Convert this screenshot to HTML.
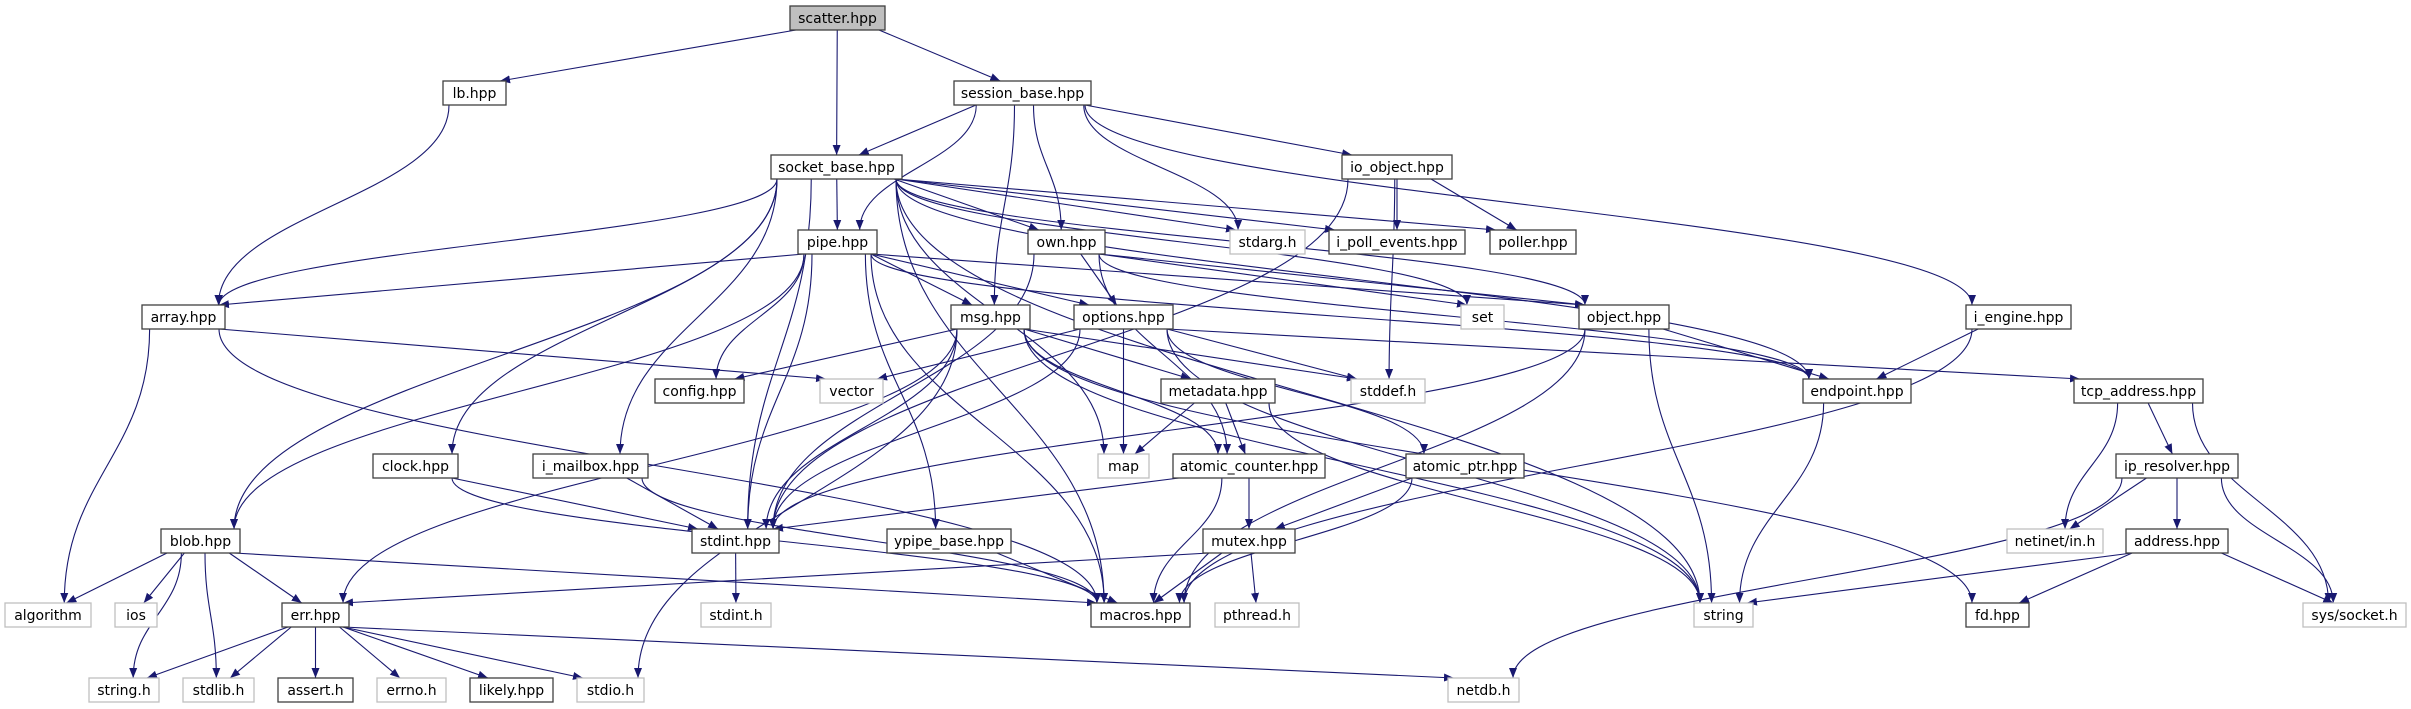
<!DOCTYPE html>
<html><head><meta charset="utf-8">
<style>
html,body{margin:0;padding:0;background:#fff;}
svg{display:block;}
text{font-family:"DejaVu Sans","Liberation Sans",sans-serif;font-size:14px;fill:#000;}
</style></head>
<body>
<svg id="g" width="2411" height="709" viewBox="0 0 2411 709" xmlns="http://www.w3.org/2000/svg">
<defs>
<marker id="ah" viewBox="0 0 10 10" refX="10" refY="5" markerWidth="10" markerHeight="10" markerUnits="userSpaceOnUse" orient="auto">
<path d="M0,1 L10,5 L0,9 z" fill="#191970"/>
</marker>
</defs>
<g id="edges" fill="none" stroke="#191970" stroke-width="1.1"></g>
<g id="nodes">
<rect x="790" y="6" width="95" height="24" fill="#bfbfbf" stroke="#404040" stroke-width="1.3"/><text x="837.5" y="23" text-anchor="middle">scatter.hpp</text>
<rect x="443" y="81" width="63" height="24" fill="#fff" stroke="#404040" stroke-width="1.3"/><text x="474.5" y="98" text-anchor="middle">lb.hpp</text>
<rect x="954" y="81" width="137" height="24" fill="#fff" stroke="#404040" stroke-width="1.3"/><text x="1022.5" y="98" text-anchor="middle">session_base.hpp</text>
<rect x="771" y="155" width="131" height="24" fill="#fff" stroke="#404040" stroke-width="1.3"/><text x="836.5" y="172" text-anchor="middle">socket_base.hpp</text>
<rect x="1342" y="155" width="110" height="24" fill="#fff" stroke="#404040" stroke-width="1.3"/><text x="1397" y="172" text-anchor="middle">io_object.hpp</text>
<rect x="798" y="230" width="79" height="24" fill="#fff" stroke="#404040" stroke-width="1.3"/><text x="837.5" y="247" text-anchor="middle">pipe.hpp</text>
<rect x="1028" y="230" width="77" height="24" fill="#fff" stroke="#404040" stroke-width="1.3"/><text x="1066.5" y="247" text-anchor="middle">own.hpp</text>
<rect x="1230" y="230" width="75" height="24" fill="#fff" stroke="#bfbfbf" stroke-width="1.3"/><text x="1267.5" y="247" text-anchor="middle">stdarg.h</text>
<rect x="1329" y="230" width="136" height="24" fill="#fff" stroke="#404040" stroke-width="1.3"/><text x="1397" y="247" text-anchor="middle">i_poll_events.hpp</text>
<rect x="1490" y="230" width="86" height="24" fill="#fff" stroke="#404040" stroke-width="1.3"/><text x="1533" y="247" text-anchor="middle">poller.hpp</text>
<rect x="142" y="305" width="83" height="24" fill="#fff" stroke="#404040" stroke-width="1.3"/><text x="183.5" y="322" text-anchor="middle">array.hpp</text>
<rect x="951" y="305" width="79" height="24" fill="#fff" stroke="#404040" stroke-width="1.3"/><text x="990.5" y="322" text-anchor="middle">msg.hpp</text>
<rect x="1074" y="305" width="99" height="24" fill="#fff" stroke="#404040" stroke-width="1.3"/><text x="1123.5" y="322" text-anchor="middle">options.hpp</text>
<rect x="1461" y="305" width="43" height="24" fill="#fff" stroke="#bfbfbf" stroke-width="1.3"/><text x="1482.5" y="322" text-anchor="middle">set</text>
<rect x="1579" y="305" width="90" height="24" fill="#fff" stroke="#404040" stroke-width="1.3"/><text x="1624" y="322" text-anchor="middle">object.hpp</text>
<rect x="1966" y="305" width="105" height="24" fill="#fff" stroke="#404040" stroke-width="1.3"/><text x="2018.5" y="322" text-anchor="middle">i_engine.hpp</text>
<rect x="655" y="379" width="89" height="24" fill="#fff" stroke="#404040" stroke-width="1.3"/><text x="699.5" y="396" text-anchor="middle">config.hpp</text>
<rect x="820" y="379" width="63" height="24" fill="#fff" stroke="#bfbfbf" stroke-width="1.3"/><text x="851.5" y="396" text-anchor="middle">vector</text>
<rect x="1161" y="379" width="114" height="24" fill="#fff" stroke="#404040" stroke-width="1.3"/><text x="1218" y="396" text-anchor="middle">metadata.hpp</text>
<rect x="1351" y="379" width="74" height="24" fill="#fff" stroke="#bfbfbf" stroke-width="1.3"/><text x="1388" y="396" text-anchor="middle">stddef.h</text>
<rect x="1803" y="379" width="108" height="24" fill="#fff" stroke="#404040" stroke-width="1.3"/><text x="1857" y="396" text-anchor="middle">endpoint.hpp</text>
<rect x="2074" y="379" width="129" height="24" fill="#fff" stroke="#404040" stroke-width="1.3"/><text x="2138.5" y="396" text-anchor="middle">tcp_address.hpp</text>
<rect x="373" y="454" width="85" height="24" fill="#fff" stroke="#404040" stroke-width="1.3"/><text x="415.5" y="471" text-anchor="middle">clock.hpp</text>
<rect x="533" y="454" width="115" height="24" fill="#fff" stroke="#404040" stroke-width="1.3"/><text x="590.5" y="471" text-anchor="middle">i_mailbox.hpp</text>
<rect x="1098" y="454" width="51" height="24" fill="#fff" stroke="#bfbfbf" stroke-width="1.3"/><text x="1123.5" y="471" text-anchor="middle">map</text>
<rect x="1173" y="454" width="152" height="24" fill="#fff" stroke="#404040" stroke-width="1.3"/><text x="1249" y="471" text-anchor="middle">atomic_counter.hpp</text>
<rect x="1406" y="454" width="118" height="24" fill="#fff" stroke="#404040" stroke-width="1.3"/><text x="1465" y="471" text-anchor="middle">atomic_ptr.hpp</text>
<rect x="2116" y="454" width="122" height="24" fill="#fff" stroke="#404040" stroke-width="1.3"/><text x="2177" y="471" text-anchor="middle">ip_resolver.hpp</text>
<rect x="161" y="529" width="79" height="24" fill="#fff" stroke="#404040" stroke-width="1.3"/><text x="200.5" y="546" text-anchor="middle">blob.hpp</text>
<rect x="692" y="529" width="87" height="24" fill="#fff" stroke="#404040" stroke-width="1.3"/><text x="735.5" y="546" text-anchor="middle">stdint.hpp</text>
<rect x="887" y="529" width="124" height="24" fill="#fff" stroke="#404040" stroke-width="1.3"/><text x="949" y="546" text-anchor="middle">ypipe_base.hpp</text>
<rect x="1203" y="529" width="92" height="24" fill="#fff" stroke="#404040" stroke-width="1.3"/><text x="1249" y="546" text-anchor="middle">mutex.hpp</text>
<rect x="2007" y="529" width="96" height="24" fill="#fff" stroke="#bfbfbf" stroke-width="1.3"/><text x="2055" y="546" text-anchor="middle">netinet/in.h</text>
<rect x="2126" y="529" width="102" height="24" fill="#fff" stroke="#404040" stroke-width="1.3"/><text x="2177" y="546" text-anchor="middle">address.hpp</text>
<rect x="5" y="603" width="86" height="24" fill="#fff" stroke="#bfbfbf" stroke-width="1.3"/><text x="48" y="620" text-anchor="middle">algorithm</text>
<rect x="115" y="603" width="42" height="24" fill="#fff" stroke="#bfbfbf" stroke-width="1.3"/><text x="136" y="620" text-anchor="middle">ios</text>
<rect x="282" y="603" width="67" height="24" fill="#fff" stroke="#404040" stroke-width="1.3"/><text x="315.5" y="620" text-anchor="middle">err.hpp</text>
<rect x="701" y="603" width="70" height="24" fill="#fff" stroke="#bfbfbf" stroke-width="1.3"/><text x="736" y="620" text-anchor="middle">stdint.h</text>
<rect x="1091" y="603" width="99" height="24" fill="#fff" stroke="#404040" stroke-width="1.3"/><text x="1140.5" y="620" text-anchor="middle">macros.hpp</text>
<rect x="1215" y="603" width="84" height="24" fill="#fff" stroke="#bfbfbf" stroke-width="1.3"/><text x="1257" y="620" text-anchor="middle">pthread.h</text>
<rect x="1694" y="603" width="59" height="24" fill="#fff" stroke="#bfbfbf" stroke-width="1.3"/><text x="1723.5" y="620" text-anchor="middle">string</text>
<rect x="1966" y="603" width="63" height="24" fill="#fff" stroke="#404040" stroke-width="1.3"/><text x="1997.5" y="620" text-anchor="middle">fd.hpp</text>
<rect x="2303" y="603" width="103" height="24" fill="#fff" stroke="#bfbfbf" stroke-width="1.3"/><text x="2354.5" y="620" text-anchor="middle">sys/socket.h</text>
<rect x="89" y="678" width="70" height="24" fill="#fff" stroke="#bfbfbf" stroke-width="1.3"/><text x="124" y="695" text-anchor="middle">string.h</text>
<rect x="183" y="678" width="71" height="24" fill="#fff" stroke="#bfbfbf" stroke-width="1.3"/><text x="218.5" y="695" text-anchor="middle">stdlib.h</text>
<rect x="278" y="678" width="75" height="24" fill="#fff" stroke="#404040" stroke-width="1.3"/><text x="315.5" y="695" text-anchor="middle">assert.h</text>
<rect x="377" y="678" width="69" height="24" fill="#fff" stroke="#bfbfbf" stroke-width="1.3"/><text x="411.5" y="695" text-anchor="middle">errno.h</text>
<rect x="470" y="678" width="83" height="24" fill="#fff" stroke="#404040" stroke-width="1.3"/><text x="511.5" y="695" text-anchor="middle">likely.hpp</text>
<rect x="577" y="678" width="67" height="24" fill="#fff" stroke="#bfbfbf" stroke-width="1.3"/><text x="610.5" y="695" text-anchor="middle">stdio.h</text>
<rect x="1448" y="678" width="71" height="24" fill="#fff" stroke="#bfbfbf" stroke-width="1.3"/><text x="1483.5" y="695" text-anchor="middle">netdb.h</text>
</g>
</svg>
<script>
var N={
scatter:[790,885,18],lb:[443,506,93],session:[954,1091,93],socket:[771,902,167],io:[1342,1452,167],
pipe:[798,877,242],own:[1028,1105,242],stdarg:[1230,1305,242],ipoll:[1329,1465,242],poller:[1490,1576,242],
array:[142,225,317],msg:[951,1030,317],options:[1074,1173,317],set:[1461,1504,317],object:[1579,1669,317],iengine:[1966,2071,317],
config:[655,744,391],vector:[820,883,391],metadata:[1161,1275,391],stddef:[1351,1425,391],endpoint:[1803,1911,391],tcp:[2074,2203,391],
clock:[373,458,466],imailbox:[533,648,466],map:[1098,1149,466],acounter:[1173,1325,466],aptr:[1406,1524,466],ipres:[2116,2238,466],
blob:[161,240,541],stdinthpp:[692,779,541],ypipe:[887,1011,541],mutex:[1203,1295,541],netinet:[2007,2103,541],address:[2126,2228,541],
algorithm:[5,91,615],ios:[115,157,615],err:[282,349,615],stdinth:[701,771,615],macros:[1091,1190,615],pthread:[1215,1299,615],string:[1694,1753,615],fd:[1966,2029,615],syssock:[2303,2406,615],
stringh:[89,159,690],stdlib:[183,254,690],assert:[278,353,690],errno:[377,446,690],likely:[470,553,690],stdio:[577,644,690],netdb:[1448,1519,690]};
var E=[
["scatter","lb"],["scatter","socket"],["scatter","session"],["lb","array"],
["session","socket"],["session","pipe"],["session","msg"],["session","own"],["session","stdarg"],["session","io"],["session","iengine"],
["socket","array"],["socket","blob"],["socket","clock"],["socket","imailbox"],["socket","map"],["socket","stdinthpp"],["socket","pipe"],["socket","own"],["socket","stdarg"],["socket","ipoll"],["socket","poller"],["socket","set"],["socket","object"],["socket","endpoint"],["socket","string"],["socket","macros"],
["io","ipoll"],["io","poller"],["io","stddef"],["io","stdinthpp"],
["pipe","array"],["pipe","blob"],["pipe","stdinthpp"],["pipe","config"],["pipe","msg"],["pipe","options"],["pipe","ypipe"],["pipe","object"],["pipe","endpoint"],["pipe","macros"],
["own","options"],["own","object"],["own","acounter"],["own","stdinthpp"],["own","set"],["own","endpoint"],
["array","algorithm"],["array","vector"],["array","macros"],
["msg","config"],["msg","stdinthpp"],["msg","metadata"],["msg","acounter"],["msg","stddef"],["msg","err"],["msg","stdio"],["msg","string"],["msg","fd"],
["options","vector"],["options","map"],["options","stdinthpp"],["options","stddef"],["options","aptr"],["options","string"],["options","tcp"],
["object","stdinthpp"],["object","macros"],["object","string"],["object","endpoint"],
["iengine","endpoint"],["iengine","macros"],
["metadata","map"],["metadata","acounter"],["metadata","string"],
["acounter","stdinthpp"],["acounter","mutex"],["acounter","macros"],
["aptr","mutex"],["aptr","macros"],
["mutex","err"],["mutex","macros"],["mutex","pthread"],
["clock","stdinthpp"],["clock","macros"],["imailbox","stdinthpp"],["imailbox","macros"],
["blob","algorithm"],["blob","ios"],["blob","stringh"],["blob","stdlib"],["blob","err"],["blob","macros"],
["err","stringh"],["err","stdlib"],["err","assert"],["err","errno"],["err","likely"],["err","stdio"],["err","netdb"],
["stdinthpp","stdinth"],["ypipe","macros"],["endpoint","string"],
["tcp","netinet"],["tcp","ipres"],["tcp","syssock"],
["ipres","netinet"],["ipres","address"],["ipres","syssock"],["ipres","netdb"],
["address","string"],["address","fd"],["address","syssock"]];
var g=document.getElementById("edges"),ns="http://www.w3.org/2000/svg";
function cl(v,a,b){return Math.max(a,Math.min(b,v));}
E.forEach(function(e){
 var s=N[e[0]],t=N[e[1]];
 var scx=(s[0]+s[1])/2,tcx=(t[0]+t[1])/2;
 var sx=cl(scx+(tcx-scx)*0.25,s[0]+6,s[1]-6),sy=s[2]+12;
 var tx=cl(tcx+(scx-tcx)*0.12,t[0]+6,t[1]-6),ty=t[2]-12;
 var dy=ty-sy,p;
 if(dy<80){p="M"+sx+","+sy+" L"+tx+","+ty;}
 else{var m=dy*0.45;p="M"+sx+","+sy+" C"+sx+","+(sy+m)+" "+tx+","+(ty-m)+" "+tx+","+ty;}
 var el=document.createElementNS(ns,"path");el.setAttribute("d",p);el.setAttribute("marker-end","url(#ah)");g.appendChild(el);
});
</script>
</body></html>
